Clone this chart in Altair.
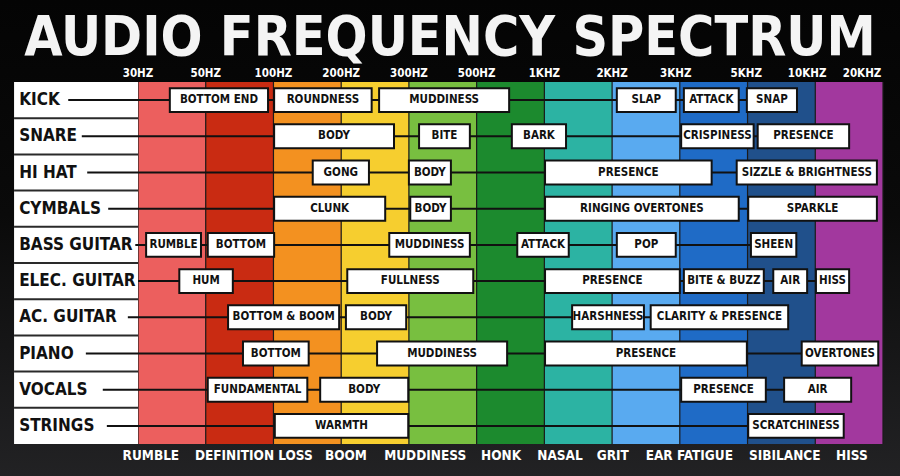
import altair as alt
import pandas as pd

# ---------------- data ----------------
title_text = "AUDIO FREQUENCY SPECTRUM"

freq_labels = ["30HZ", "50HZ", "100HZ", "200HZ", "300HZ", "500HZ",
               "1KHZ", "2KHZ", "3KHZ", "5KHZ", "10KHZ", "20KHZ"]
freq_label_pos = [0, 1, 2, 3, 4, 5, 6, 7, 7.94, 8.98, 9.88, 10.69]

band_colors = ["#EC5F5E", "#C92B12", "#F39120", "#F6CE2F", "#78BF40", "#1C8A2E",
               "#2CB3A3", "#59AAF0", "#1F6BC6", "#20508B", "#A2389E"]

problem_labels = ["RUMBLE", "DEFINITION LOSS", "BOOM", "MUDDINESS", "HONK",
                  "NASAL", "GRIT", "EAR FATIGUE", "SIBILANCE", "HISS"]
problem_pos = [0.19, 1.71, 3.07, 4.24, 5.36, 6.23, 7.01, 8.14, 9.55, 10.54]

instruments = ["KICK", "SNARE", "HI HAT", "CYMBALS", "BASS GUITAR",
               "ELEC. GUITAR", "AC. GUITAR", "PIANO", "VOCALS", "STRINGS"]
line_start = [-1.03, -0.83, -0.75, -0.44, -0.04, 0.0, -0.15, -0.77, -0.52, -0.46]

kick_boxes = [("BOTTOM END", 0.47, 1.92), ("ROUNDNESS", 2.01, 3.45), ("MUDDINESS", 3.56, 5.48),
              ("SLAP", 7.07, 7.94), ("ATTACK", 8.06, 8.87), ("SNAP", 8.99, 9.73)]
snare_boxes = [("BODY", 2.01, 3.78), ("BITE", 4.15, 4.90), ("BARK", 5.52, 6.32),
               ("CRISPINESS", 8.02, 9.09), ("PRESENCE", 9.15, 10.50)]
hihat_boxes = [("GONG", 2.58, 3.41), ("BODY", 4.00, 4.62), ("PRESENCE", 6.01, 8.47),
               ("SIZZLE & BRIGHTNESS", 8.84, 10.91)]
cymbal_boxes = [("CLUNK", 2.01, 3.65), ("BODY", 4.02, 4.62), ("RINGING OVERTONES", 6.01, 8.87),
                ("SPARKLE", 9.01, 10.91)]
bass_boxes = [("RUMBLE", 0.12, 0.93), ("BOTTOM", 1.03, 2.01), ("MUDDINESS", 3.71, 4.90),
              ("ATTACK", 5.60, 6.36), ("POP", 7.07, 7.94), ("SHEEN", 9.05, 9.72)]
elec_boxes = [("HUM", 0.61, 1.40), ("FULLNESS", 3.09, 4.95), ("PRESENCE", 6.01, 8.00),
              ("BITE & BUZZ", 8.06, 9.24), ("AIR", 9.38, 9.88), ("HISS", 10.01, 10.50)]
acoustic_boxes = [("BOTTOM & BOOM", 1.33, 2.97), ("BODY", 3.07, 3.96), ("HARSHNESS", 6.41, 7.47),
                  ("CLARITY & PRESENCE", 7.57, 9.60)]
piano_boxes = [("BOTTOM", 1.55, 2.52), ("MUDDINESS", 3.53, 5.45), ("PRESENCE", 6.01, 8.99),
               ("OVERTONES", 9.80, 10.93)]
vocal_boxes = [("FUNDAMENTAL", 1.03, 2.50), ("BODY", 2.69, 3.99), ("PRESENCE", 8.02, 9.27),
               ("AIR", 9.54, 10.53)]
string_boxes = [("WARMTH", 2.02, 3.99), ("SCRATCHINESS", 9.01, 10.42)]

all_boxes = [kick_boxes, snare_boxes, hihat_boxes, cymbal_boxes, bass_boxes,
             elec_boxes, acoustic_boxes, piano_boxes, vocal_boxes, string_boxes]

# ---------------- tables ----------------
W, H = 900, 476
FONT = "DejaVu Sans Condensed, DejaVu Sans, sans-serif"
INK = "#111111"

box_rows = []
for i, boxes in enumerate(all_boxes):
    for lab, a, b in boxes:
        box_rows.append({"row": i, "label": lab, "x": a, "x2": b,
                         "xm": (a + b) / 2, "yc": i + 0.5,
                         "y": i + 0.5 - 0.33, "y2": i + 0.5 + 0.33})
box_df = pd.DataFrame(box_rows)

line_df = pd.DataFrame({
    "row": list(range(len(instruments))),
    "x": line_start,
    "x2": [max(b[1] for b in boxes) + 0.1 for boxes in all_boxes],
    "y": [i + 0.5 for i in range(len(instruments))],
})

band_df = pd.DataFrame({
    "x": list(range(len(band_colors))),
    "x2": [i + 1 for i in range(len(band_colors))],
    "color": band_colors,
    "y": [0] * len(band_colors),
    "y2": [len(instruments)] * len(band_colors),
})

sep_df = pd.DataFrame({"x": list(range(len(band_colors) + 1)),
                       "y": [0] * (len(band_colors) + 1),
                       "y2": [len(instruments)] * (len(band_colors) + 1)})

inst_df = pd.DataFrame({"label": instruments,
                        "y": [i + 0.5 for i in range(len(instruments))],
                        "x": [-1.755] * len(instruments)})

rowsep_df = pd.DataFrame({"y": list(range(1, len(instruments))),
                          "x": [-1.83] * (len(instruments) - 1),
                          "x2": [0] * (len(instruments) - 1)})

labelcol_df = pd.DataFrame({"x": [-1.83], "x2": [0], "y": [0], "y2": [len(instruments)]})

freq_df = pd.DataFrame({"label": freq_labels, "x": freq_label_pos, "y": [-0.21] * len(freq_labels)})
prob_df = pd.DataFrame({"label": problem_labels, "x": problem_pos, "y": [10.33] * len(problem_labels)})

# ---------------- scales ----------------
xs = alt.Scale(domain=[(0 - 138) / 67.727, (W - 138) / 67.727], nice=False, zero=False)
ys = alt.Scale(domain=[(0 - 82) / 36.2, (H - 82) / 36.2], nice=False, zero=False, reverse=True)


def X(f):
    return alt.X(f, type="quantitative", scale=xs, axis=None)


def Y(f):
    return alt.Y(f, type="quantitative", scale=ys, axis=None)


bg = alt.Chart(pd.DataFrame({"a": [0]})).mark_rect(
    color=alt.Gradient(gradient="linear",
                       stops=[alt.GradientStop(color="#040404", offset=0),
                              alt.GradientStop(color="#0a0a0a", offset=0.45),
                              alt.GradientStop(color="#222224", offset=1)],
                       x1=0, x2=0, y1=0, y2=1)
).encode(x=alt.value(0), x2=alt.value(W), y=alt.value(0), y2=alt.value(H))

title = alt.Chart(pd.DataFrame({"t": [title_text]})).mark_text(
    font=FONT, fontWeight="bold", fontSize=55, color="#F4F4F4", baseline="alphabetic", align="center"
).encode(x=alt.value(W / 2), y=alt.value(55), text="t:N")

bands = alt.Chart(band_df).mark_rect().encode(
    x=X("x"), x2="x2", y=Y("y"), y2="y2", color=alt.Color("color:N", scale=None))

seps = alt.Chart(sep_df).mark_rule(color="#1b1b1b", strokeWidth=1.2).encode(
    x=X("x"), y=Y("y"), y2="y2")

labelcol = alt.Chart(labelcol_df).mark_rect(color="#FFFFFF").encode(
    x=X("x"), x2="x2", y=Y("y"), y2="y2")

rowseps = alt.Chart(rowsep_df).mark_rule(color="#2a2a2a", strokeWidth=2).encode(
    x=X("x"), x2="x2", y=Y("y"))

lines = alt.Chart(line_df).mark_rule(color=INK, strokeWidth=2).encode(
    x=X("x"), x2="x2", y=Y("y"))

boxes = alt.Chart(box_df).mark_rect(fill="#FFFFFF", stroke=INK, strokeWidth=2).encode(
    x=X("x"), x2="x2", y=Y("y"), y2="y2")

box_text = alt.Chart(box_df).mark_text(
    font=FONT, fontWeight="bold", fontSize=11.5, color=INK, baseline="middle", align="center"
).encode(x=X("xm"), y=Y("yc"), text="label:N")

inst_text = alt.Chart(inst_df).mark_text(
    font=FONT, fontWeight="bold", fontSize=17, color=INK, baseline="middle", align="left"
).encode(x=X("x"), y=Y("y"), text="label:N")

freq_text = alt.Chart(freq_df).mark_text(
    font=FONT, fontWeight="bold", fontSize=11.5, color="#FFFFFF", baseline="middle", align="center"
).encode(x=X("x"), y=Y("y"), text="label:N")

prob_text = alt.Chart(prob_df).mark_text(
    font=FONT, fontWeight="bold", fontSize=13.5, color="#FFFFFF", baseline="middle", align="center"
).encode(x=X("x"), y=Y("y"), text="label:N")

chart = alt.layer(
    bg, title, bands, seps, labelcol, rowseps, lines, boxes, box_text, inst_text, freq_text, prob_text
).properties(
    width=W, height=H, padding=0, autosize=alt.AutoSizeParams(type="none")
).configure_view(stroke=None).configure(background="#080808")

chart.save("out.html", embed_options={"renderer": "svg", "actions": False})
